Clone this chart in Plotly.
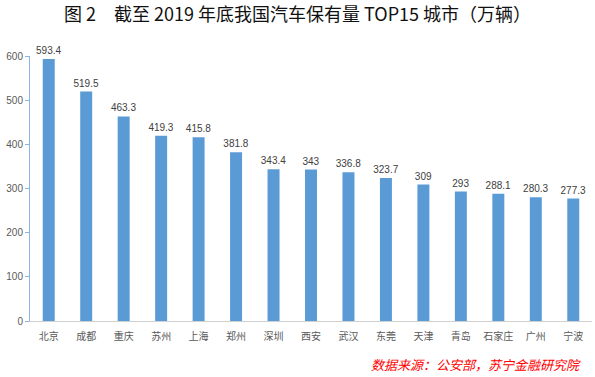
import plotly.graph_objects as go

cities = ["北京", "成都", "重庆", "苏州", "上海", "郑州", "深圳", "西安", "武汉", "东莞", "天津", "青岛", "石家庄", "广州", "宁波"]
values = [593.4, 519.5, 463.3, 419.3, 415.8, 381.8, 343.4, 343, 336.8, 323.7, 309, 293, 288.1, 280.3, 277.3]
labels = ["593.4", "519.5", "463.3", "419.3", "415.8", "381.8", "343.4", "343", "336.8", "323.7", "309", "293", "288.1", "280.3", "277.3"]
y_ticks = [0, 100, 200, 300, 400, 500, 600]

fig = go.Figure(go.Bar(
    x=cities, y=values, text=labels, textposition="outside",
    constraintext="none",
    textfont=dict(size=10, color="#404040", family="Liberation Sans, Arial"),
    marker=dict(color="#5B9BD5", line=dict(width=0)),
    cliponaxis=False,
))

fig.update_layout(
    width=595, height=377,
    margin=dict(l=30, r=3, t=56, b=56),
    paper_bgcolor="white", plot_bgcolor="white",
    bargap=0.68,
    showlegend=False,
    font=dict(family="Noto Sans CJK SC", color="#595959", size=10),
    title=dict(
        text="图 2　截至 2019 年底我国汽车保有量 TOP15 城市（万辆）",
        x=0.5, xanchor="center", y=0.96, yanchor="middle",
        font=dict(size=18, color="#111111", family="Noto Sans CJK SC"),
    ),
    xaxis=dict(
        showline=True, linecolor="#D0D0D0", linewidth=1,
        ticks="", ticklabelstandoff=6, tickfont=dict(size=10, color="#595959"),
        showgrid=False, fixedrange=True,
    ),
    yaxis=dict(
        range=[0, 600], tickvals=y_ticks,
        showline=True, linecolor="#8EB4E3", linewidth=1,
        ticks="outside", ticklen=4, tickcolor="#8EB4E3",
        showgrid=False, zeroline=False,
        tickfont=dict(size=10, color="#595959", family="Liberation Sans, Arial"),
    ),
    annotations=[dict(
        text="<i>数据来源：公安部，苏宁金融研究院</i>",
        xref="paper", yref="paper", x=1.0, y=0, xanchor="right", yanchor="middle",
        yshift=-43, xshift=-9, showarrow=False,
        font=dict(size=13, color="#FF0000", family="Noto Sans CJK SC"),
    )],
)

fig.write_html("out.html", config={"displayModeBar": False},
               post_script="document.body.style.margin='0';")
